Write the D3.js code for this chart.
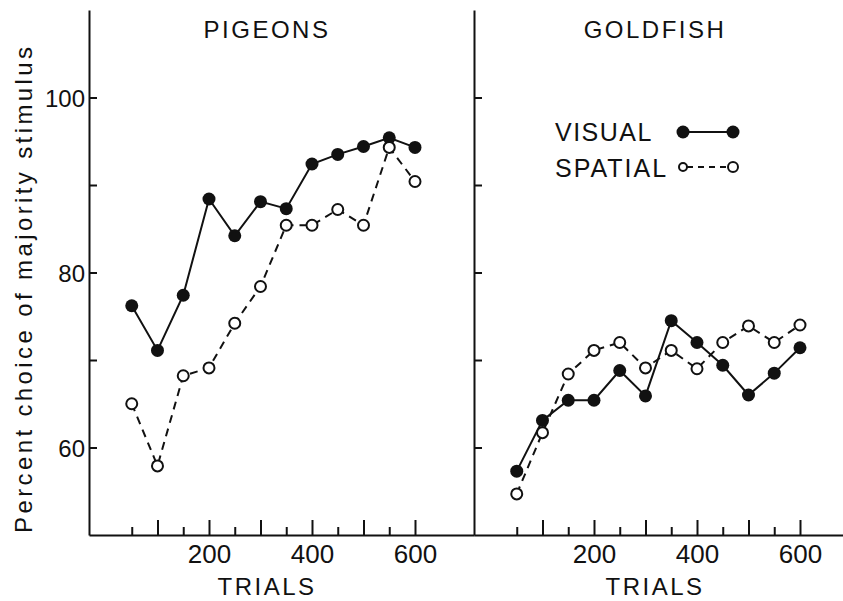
<!DOCTYPE html>
<html>
<head>
<meta charset="utf-8">
<script src="https://cdn.jsdelivr.net/npm/d3@7"></script>
<style>
  body { margin: 0; background: #fff; }
  text { font-family: "Liberation Sans", Arial, sans-serif; fill: #111; }
</style>
</head>
<body>
<div id="svg-container"></div>
<script>
// trials (x) and percent choice values
const trials = [50, 100, 150, 200, 250, 300, 350, 400, 450, 500, 550, 600]
const pigeonsVisual = [76.2, 71.1, 77.4, 88.4, 84.2, 88.1, 87.3, 92.4, 93.5, 94.4, 95.4, 94.3]
const pigeonsSpatial = [65.0, 57.9, 68.2, 69.1, 74.2, 78.4, 85.4, 85.4, 87.2, 85.4, 94.3, 90.4]
const goldfishVisual = [57.3, 63.1, 65.4, 65.4, 68.8, 65.9, 74.5, 72.0, 69.4, 66.0, 68.5, 71.4]
const goldfishSpatial = [54.7, 61.7, 68.4, 71.1, 72.0, 69.1, 71.1, 69.0, 72.0, 73.9, 72.0, 74.0]
const yTicks = [60, 70, 80, 90, 100]
const yLabels = [60, 80, 100]
const xMajor = [100, 200, 300, 400, 500, 600]
const xMinor = [50, 150, 250, 350, 450, 550]
const xLabels = [200, 400, 600]

const width = 843, height = 601
const svg = d3.select('#svg-container').append('svg')
    .attr('width', width).attr('height', height)

const y = d3.scaleLinear().domain([50, 110]).range([535, 10])

const panels = [
    { title: 'PIGEONS', visual: pigeonsVisual, spatial: pigeonsSpatial, left: 89, right: 474, labels: true, tx: 267 },
    { title: 'GOLDFISH', visual: goldfishVisual, spatial: goldfishSpatial, left: 474, right: 843, labels: false, tx: 655 }
]

panels.forEach(p => {
    const x = d3.scaleLinear().domain([-33, -33 + (p.right - p.left) / 0.515]).range([p.left, p.right])
    const g = svg.append('g')

    // y-as met ticks naar binnen
    const yAxis = g.append('g').attr('transform', `translate(${p.left},0)`)
        .call(d3.axisLeft(y).tickValues(yTicks).tickSize(-8).tickSizeOuter(0).tickPadding(4)
            .tickFormat(d => p.labels && yLabels.includes(d) ? d : ''))
    yAxis.selectAll('text').style('font-size', '24px').attr('dy', '0.36em')

    // x-as: lange en korte ticks
    const xAxis = g.append('g').attr('transform', `translate(0,${y(50)})`)
        .call(d3.axisBottom(x).tickValues(xMajor).tickSize(-15).tickSizeOuter(0).tickPadding(10)
            .tickFormat(d => xLabels.includes(d) ? d : ''))
    xAxis.selectAll('text').style('font-size', '26px')
    g.append('g').attr('transform', `translate(0,${y(50)})`)
        .call(d3.axisBottom(x).tickValues(xMinor).tickSize(-8).tickSizeOuter(0).tickFormat(''))
        .select('.domain').remove()

    g.selectAll('.domain, .tick line').attr('stroke', '#111').attr('stroke-width', 2)

    g.append('text').attr('x', p.tx).attr('y', 38).attr('text-anchor', 'middle')
        .style('font-size', '24px').style('letter-spacing', '2.5px').text(p.title)
    g.append('text').attr('x', p.tx).attr('y', 595).attr('text-anchor', 'middle')
        .style('font-size', '24px').style('letter-spacing', '2.5px').text('TRIALS')

    const line = d3.line().x((d, i) => x(trials[i])).y(d => y(d))

    g.append('path').datum(p.visual).attr('d', line)
        .attr('fill', 'none').attr('stroke', '#111').attr('stroke-width', 2)
    g.append('path').datum(p.spatial).attr('d', line)
        .attr('fill', 'none').attr('stroke', '#111').attr('stroke-width', 2).attr('stroke-dasharray', '8,6')

    g.selectAll('.vis').data(p.visual).enter().append('circle')
        .attr('cx', (d, i) => x(trials[i])).attr('cy', d => y(d)).attr('r', 6.5).attr('fill', '#111')
    g.selectAll('.spa').data(p.spatial).enter().append('circle')
        .attr('cx', (d, i) => x(trials[i])).attr('cy', d => y(d)).attr('r', 5.5)
        .attr('fill', '#fff').attr('stroke', '#111').attr('stroke-width', 2)
})

// y label
svg.append('text').attr('transform', 'translate(32,290) rotate(-90)').attr('text-anchor', 'middle')
    .attr('textLength', 486).attr('lengthAdjust', 'spacing')
    .style('font-size', '24px').text('Percent choice of majority stimulus')

// legenda
const legend = svg.append('g')
legend.append('text').attr('x', 555).attr('y', 141).style('font-size', '25px').style('letter-spacing', '1.5px').text('VISUAL')
legend.append('text').attr('x', 555).attr('y', 177).style('font-size', '25px').style('letter-spacing', '2px').text('SPATIAL')
legend.append('line').attr('x1', 683).attr('x2', 733).attr('y1', 132).attr('y2', 132).attr('stroke', '#111').attr('stroke-width', 2)
legend.selectAll('.lv').data([683, 733]).enter().append('circle')
    .attr('cx', d => d).attr('cy', 132).attr('r', 6.5).attr('fill', '#111')
legend.append('line').attr('x1', 687).attr('x2', 728).attr('y1', 167).attr('y2', 167)
    .attr('stroke', '#111').attr('stroke-width', 2).attr('stroke-dasharray', '6,5')
legend.append('circle').attr('cx', 683).attr('cy', 167).attr('r', 4).attr('fill', '#fff').attr('stroke', '#111').attr('stroke-width', 2)
legend.append('circle').attr('cx', 733).attr('cy', 167).attr('r', 5).attr('fill', '#fff').attr('stroke', '#111').attr('stroke-width', 2)
</script>
</body>
</html>
